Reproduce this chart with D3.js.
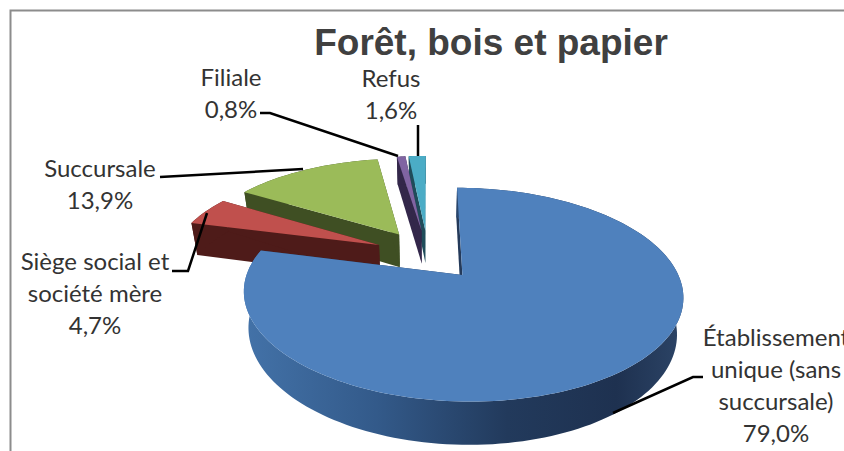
<!DOCTYPE html>
<html><head><meta charset="utf-8">
<script src="https://cdn.jsdelivr.net/npm/d3@7"></script>
<style>html,body{margin:0;padding:0;background:#fff;overflow:hidden}svg{display:block}</style>
</head><body><svg id="c" width="844" height="451"></svg>
<script>
const categories = ["Établissement unique (sans succursale)","Siège social et société mère","Succursale","Filiale","Refus"];
const values = [79.0,4.7,13.9,0.8,1.6];
const topColors = ["#4f81bd","#c0504d","#9bbb59","#8064a2","#4bacc6"];
const sideColors = ["#243a5a","#4e1b19","#3f4f23","#33274a","#1f4c5a"];
const title = "Forêt, bois et papier";
const labelLines = [
  ["Établissement","unique (sans","succursale)","79,0%"],
  ["Siège social et","société mère","4,7%"],
  ["Succursale","13,9%"],
  ["Filiale","0,8%"],
  ["Refus","1,6%"]
];
const labelAnchors = [[776,346],[95,270],[100,177],[231,86],[391,87]];
const leaders = [
  [[703,377],[693,377],[613,413]],
  [[172,271],[188,271],[207,213]],
  [[160,177],[303,169]],
  [[260,113],[270,113],[398,156]],
  [[418,125],[418,156]]
];
// projection of the tilted disc
const cx=428, cy=254.5, R=208, A=95.8, P=-0.178, EXPLODE=0.26, DEPTH=34, SHRINK=0.025;
const proj=(U,V,z=0)=>{const w=1+P*V;return [cx+R*U*(1-z*SHRINK)/w, cy+(A*V+z*DEPTH)/w];};
const svg=d3.select("#c");
const defs=svg.append("defs");
const g=defs.append("linearGradient").attr("id","blueSide").attr("gradientUnits","userSpaceOnUse")
  .attr("x1",245).attr("x2",682).attr("y1",0).attr("y2",0);
[[0,"#4372a8"],[0.3,"#335a8a"],[0.6,"#223a5c"],[0.85,"#1e3150"],[1,"#2c4466"]].forEach(s=>g.append("stop").attr("offset",s[0]).attr("stop-color",s[1]));
const line=d3.line();
// frame
svg.append("path").attr("d",line([[844,10.5],[10.5,10.5],[10.5,451]])).attr("fill","none").attr("stroke","#8c8c8c").attr("stroke-width",2);
const pie=d3.pie().sort(null).value(d=>d)(values);
const slices=pie.map((p,i)=>{
  const mid=(p.startAngle+p.endAngle)/2;
  const ou=EXPLODE*Math.sin(mid), ov=-EXPLODE*Math.cos(mid);
  const n=Math.max(4,Math.ceil((p.endAngle-p.startAngle)/0.03));
  const rim=d3.range(n+1).map(k=>{const a=p.startAngle+(p.endAngle-p.startAngle)*k/n;return [ou+Math.sin(a),ov-Math.cos(a)];});
  return {i,ou,ov,rim};
});
const order=[4,3,2,1,0];
order.forEach(i=>{
  const s=slices[i], G=svg.append("g");
  const side=i===0?"url(#blueSide)":sideColors[i];
  const rimTop=s.rim.map(q=>proj(q[0],q[1],0));
  const rimBot=s.rim.map(q=>proj(q[0],q[1],1));
  const a0=proj(s.ou,s.ov,0), a1=proj(s.ou,s.ov,1);
  const last=s.rim.length-1;
  [[a0,rimTop[0],rimBot[0],a1],[a0,rimTop[last],rimBot[last],a1]].forEach(w=>
    G.append("path").attr("d",line(w)+"Z").attr("fill",i===0?sideColors[0]:side));
  G.append("path").attr("d",line(rimTop.concat(rimBot.slice().reverse()))+"Z").attr("fill",side);
  G.append("path").attr("d",line([a0].concat(rimTop))+"Z").attr("fill",topColors[i]);
});
// leaders
leaders.forEach(l=>svg.append("path").attr("d",line(l)).attr("fill","none").attr("stroke","#000").attr("stroke-width",2.5));
// labels
labelLines.forEach((ls,i)=>{
  const t=svg.append("text").attr("text-anchor","middle").attr("font-family","Lato, 'Open Sans', sans-serif")
    .attr("font-size",24).attr("fill","#333");
  ls.forEach((s,k)=>t.append("tspan").attr("x",labelAnchors[i][0]).attr("y",labelAnchors[i][1]+k*32).text(s));
});
svg.append("text").attr("x",491).attr("y",55).attr("text-anchor","middle").attr("font-family","'Liberation Sans', Arial, sans-serif")
  .attr("font-weight","bold").attr("font-size",37).attr("fill","#404040").text(title);
</script></body></html>
